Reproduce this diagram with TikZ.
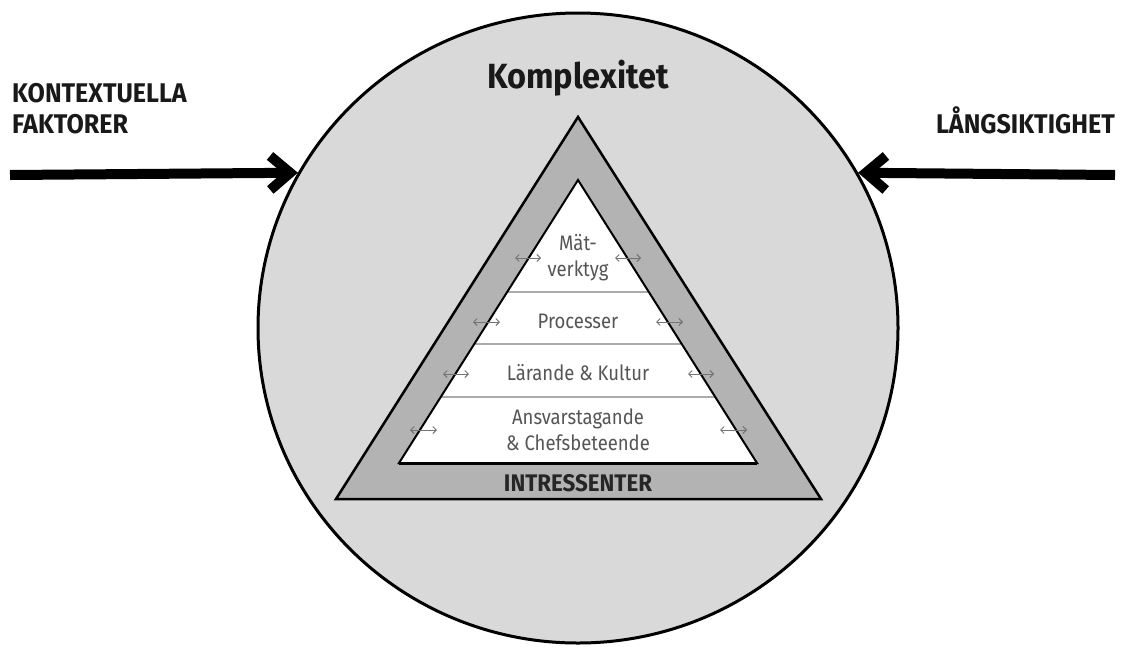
\documentclass[tikz,border=0pt]{standalone}
\usepackage{fontspec}
\setmainfont{Fira Sans}
\newfontfamily\boldf{Fira Sans}[FakeStretch=0.93]
\newfontfamily\lightf{Fira Sans}[FakeStretch=0.88]
\usetikzlibrary{arrows.meta,shapes.geometric}
\definecolor{circfill}{HTML}{D9D9D9}
\definecolor{bandfill}{HTML}{B3B3B3}
\definecolor{divgray}{HTML}{ABABAB}
\definecolor{txtgray}{HTML}{555555}
\tikzset{
  lbl/.style={font=\boldf\bfseries\fontsize{27}{31}\selectfont, text=black!90, inner sep=0},
  komp/.style={font=\boldf\bfseries\fontsize{35}{40}\selectfont, text=black!90, inner sep=0},
  intr/.style={font=\boldf\bfseries\fontsize{24}{28}\selectfont, text=black!85, inner sep=0},
  inl/.style={font=\lightf\fontsize{21}{26}\selectfont, text=txtgray, align=center, inner sep=0},
  smallarr/.style={draw=gray!90!black, line width=1pt, {Straight Barb[length=3.5pt,width=7pt]}-{Straight Barb[length=3.5pt,width=7pt]}},
  bigarrow/.style={line width=10pt, -{Straight Barb[length=20pt,width=34pt]}},
  divider/.style={draw=divgray, line width=2.5pt}
}
\begin{document}
\begin{tikzpicture}[x=1pt,y=-1pt]
\useasboundingbox (0,0) rectangle (1124,646);
% big circle
\node[ellipse, draw, line width=3pt, fill=circfill, minimum width=640pt, minimum height=630pt, inner sep=0] (circ) at (578,328) {};
% triangles
\coordinate (oA) at (578,117);
\coordinate (oL) at (336,499);
\coordinate (oR) at (821,499);
\coordinate (iA) at (578,180);
\coordinate (iL) at (399,463);
\coordinate (iR) at (757,463);
\draw[line width=2.5pt, fill=bandfill, line join=miter] (oA) -- (oL) -- (oR) -- cycle;
\fill[white] (iA) -- (iL) -- (iR) -- cycle;
% dividers
\coordinate (d1l) at (507,292); \coordinate (d1r) at (649,292);
\coordinate (d2l) at (474,344); \coordinate (d2r) at (682,344);
\coordinate (d3l) at (440,397); \coordinate (d3r) at (716,397);
\draw[divider] (d1l) -- (d1r);
\draw[divider] (d2l) -- (d2r);
\draw[divider] (d3l) -- (d3r);
\draw[line width=2pt, line join=miter] (iA) -- (iL) -- (iR) -- cycle;
\draw[line width=3pt] (iL) -- (iR);
% texts
\node[komp] (kompl) at (578,78) {Komplexitet};
\node[lbl, anchor=base west] (kont) at (12,102) {KONTEXTUELLA};
\node[lbl, anchor=base west] (fakt) at (12,133) {FAKTORER};
\node[lbl, anchor=base east] (lang) at (1115,133) {LÅNGSIKTIGHET};
\node[intr] (intress) at (578,483) {INTRESSENTER};
\node[inl] (mat) at (578,258) {Mät-\\verktyg};
\node[inl] (proc) at (578,321) {Processer};
\node[inl] (lar) at (578,373) {Lärande \& Kultur};
\node[inl] (ans) at (578,430) {Ansvarstagande\\\& Chefsbeteende};
% big arrows
\coordinate (leftend) at (10,175);
\coordinate (rightend) at (1115,175);
\draw[bigarrow] (leftend) -- (circ.151);
\draw[bigarrow] (rightend) -- (circ.29);
% small double arrows
\coordinate (a1l) at (515,258); \coordinate (a1r) at (541,258);
\coordinate (b1l) at (615,258); \coordinate (b1r) at (641,258);
\coordinate (a2l) at (473,322); \coordinate (a2r) at (500,322);
\coordinate (b2l) at (656,322); \coordinate (b2r) at (683,322);
\coordinate (a3l) at (443,374); \coordinate (a3r) at (469,374);
\coordinate (b3l) at (688,374); \coordinate (b3r) at (714,374);
\coordinate (a4l) at (410,430); \coordinate (a4r) at (437,430);
\coordinate (b4l) at (720,430); \coordinate (b4r) at (747,430);
\draw[smallarr] (a1l) -- (a1r);
\draw[smallarr] (b1l) -- (b1r);
\draw[smallarr] (a2l) -- (a2r);
\draw[smallarr] (b2l) -- (b2r);
\draw[smallarr] (a3l) -- (a3r);
\draw[smallarr] (b3l) -- (b3r);
\draw[smallarr] (a4l) -- (a4r);
\draw[smallarr] (b4l) -- (b4r);
\end{tikzpicture}
\end{document}
